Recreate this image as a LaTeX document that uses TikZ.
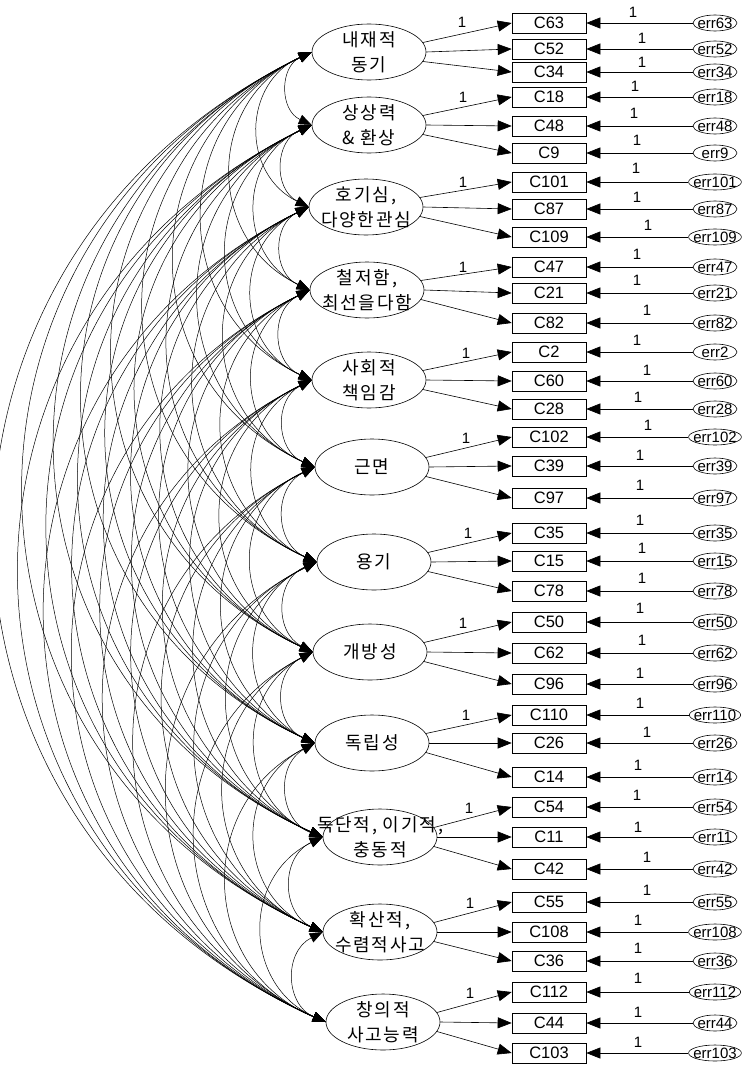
\documentclass[tikz,border=0pt]{standalone}
\usepackage{fontspec}
\setmainfont{Liberation Sans}
\newfontfamily\kr[LetterSpace=10]{Noto Sans CJK KR}
\usetikzlibrary{arrows.meta,shapes.geometric}
\begin{document}
\begin{tikzpicture}[x=1pt,y=-1pt,line width=0.6pt,
  fac/.style={ellipse,draw,minimum width=114pt,minimum height=56pt,inner xsep=-40pt,inner ysep=-20pt,font=\kr\fontsize{18}{25}\selectfont,align=center},
  ind/.style={draw,rectangle,minimum width=74pt,minimum height=20pt,inner sep=0pt,font=\fontsize{16.5}{18}\selectfont},
  errn/.style={draw,ellipse,minimum width=44pt,minimum height=16pt,inner xsep=-3pt,inner ysep=0pt,font=\fontsize{15}{16}\selectfont},
  one/.style={font=\fontsize{15}{16}\selectfont,inner sep=0pt},
  load/.style={-{Triangle[length=14pt,width=11pt]}},
  cov/.style={{Triangle[length=13pt,width=10pt]}-{Triangle[length=13pt,width=10pt]},bend right=65,looseness=1.25,line width=0.5pt}]
\fill[white] (0,0) rectangle (748,1065);
\useasboundingbox (0,0) rectangle (748,1065);
% latent factors
\foreach \n/\x/\y/\t in {
  1/369/52/{내재적\\동기},
  2/369/125/{상상력\\\& 환상},
  3/366/207/{호기심,\\다양한관심},
  4/367/290/{철저함,\\최선을다함},
  5/369/380/{사회적\\책임감},
  6/372/467/{근면},
  7/374/562/{용기},
  8/370/652/{개방성},
  9/372/743/{독립성},
  10/380/837/{독단적, 이기적,\\충동적},
  11/380/932/{확산적,\\수렴적사고},
  12/383/1022/{창의적\\사고능력}}
  {\node[fac] (F\n) at (\x,\y) {\t};}
% covariances
\foreach \i in {1,...,11}{
  \pgfmathtruncatemacro\s{\i+1}
  \foreach \j in {\s,...,12}{
    \draw[cov] (F\i.west) to (F\j.west);
  }
}
% indicators and errors
\foreach \f/\c/\y/\a/\lx/\ly in {
  1/63/23/10/633/12, 1/52/49/0/642/38, 1/34/72/-10/642/62,
  2/18/97/10/635/86, 2/48/126/0/634/113, 2/9/153/-10/637/140,
  3/101/182/10/636/168, 3/87/209/0/637/197, 3/109/237/-10/648/225,
  4/47/267/10/637/254, 4/21/293/0/637/280, 4/82/323/-10/647/310,
  5/2/352/10/637/340, 5/60/381/0/647/370, 5/28/409/-10/638/397,
  6/102/437/10/648/425, 6/39/466/0/640/455, 6/97/498/-10/640/485,
  7/35/533/10/640/520, 7/15/561/0/642/548, 7/78/591/-10/642/578,
  8/50/622/10/640/608, 8/62/653/0/642/640, 8/96/684/-10/640/673,
  9/110/715/10/640/703, 9/26/743/0/647/732, 9/14/777/-10/638/765,
  10/54/807/10/637/795, 10/11/837/0/638/827, 10/42/869/-10/647/857,
  11/55/902/10/647/890, 11/108/932/0/638/920, 11/36/961/-10/638/948,
  12/112/992/10/638/978, 12/44/1023/0/638/1012, 12/103/1053/-10/638/1042}
{
  \node[ind] (C\c) at (549,\y) {C\c};
  \node[errn] (e\c) at (715,\y) {err\c};
  \draw[load] (e\c.west) -- (C\c.east);
  \draw[load] (F\f.\a) -- (C\c.west);
  \node[one] (o\c) at (\lx,\ly) {1};
}
% loading labels
\foreach \f/\x/\y in {1/462/22,2/463/97,3/463/182,4/463/267,5/466/353,6/466/438,
  7/468/533,8/463/623,9/466/715,10/469/808,11/470/903,12/470/993}
  {\node[one] (L\f) at (\x,\y) {1};}
\end{tikzpicture}
\end{document}
